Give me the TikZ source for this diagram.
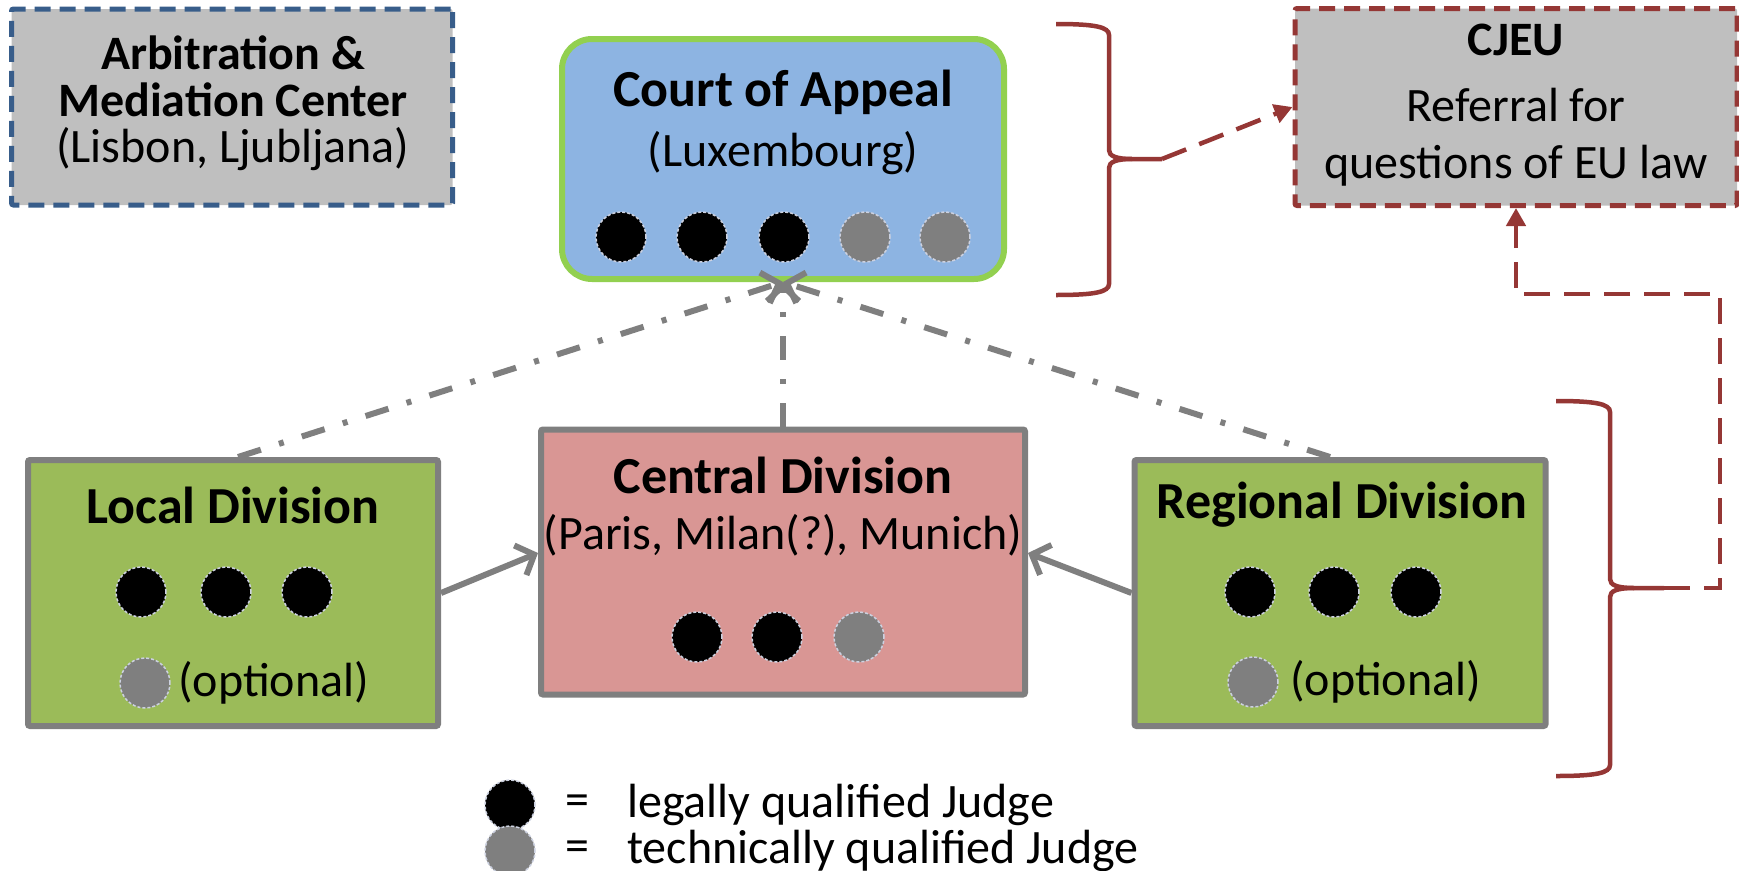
\documentclass[tikz,border=0pt]{standalone}
\usepackage{fontspec}
\setmainfont{Carlito}
\usetikzlibrary{arrows.meta,shapes.geometric}

\definecolor{arbblue}{RGB}{56,93,138}
\definecolor{boxgray}{RGB}{191,191,191}
\definecolor{courtblue}{RGB}{141,180,226}
\definecolor{courtgreen}{RGB}{146,208,80}
\definecolor{cjeured}{RGB}{149,55,53}
\definecolor{divgreen}{RGB}{155,187,89}
\definecolor{divpink}{RGB}{217,150,148}
\definecolor{divgray}{RGB}{127,127,127}
\definecolor{dotrim}{RGB}{204,209,224}

\tikzset{
  courtbox/.style={rectangle, draw=courtgreen, fill=courtblue, line width=6pt, rounded corners=30pt},
  divbox/.style={rectangle, draw=divgray, line width=6pt, rounded corners=2pt},
  extbox/.style={rectangle, fill=boxgray, line width=5pt, dash pattern=on 16pt off 9pt, rounded corners=2pt},
  judge/.style={circle, minimum size=50pt, inner sep=0pt, draw=dotrim, line width=1.5pt, dash pattern=on 3pt off 2pt},
  legal/.style={judge, fill=black},
  technical/.style={judge, fill=divgray},
  title/.style={font=\fontsize{52}{62}\selectfont\bfseries, inner sep=0pt},
  txt/.style={font=\fontsize{48}{57}\selectfont, align=center, inner sep=0pt},
  bold/.style={font=\fontsize{48}{57}\selectfont\bfseries, inner sep=0pt},
  appeal/.style={draw=divgray, line width=6pt, dash pattern=on 24pt off 19pt on 5pt off 19pt,
                 -{Straight Barb[length=15pt,width=32pt]}},
  feed/.style={draw=divgray, line width=6pt, -{Straight Barb[length=15pt,width=32pt]}},
  referral/.style={draw=cjeured, line width=4.5pt, dash pattern=on 26pt off 14pt,
                   -{Triangle[length=18pt,width=19pt]}},
  bracket/.style={draw=cjeured, line width=4.5pt}
}

\begin{document}
\begin{tikzpicture}[x=1pt,y=-1pt]
  \useasboundingbox (0,0) rectangle (1739,870);

  % top row
  \node[extbox, draw=arbblue, minimum width=441pt, minimum height=196pt] (arb) at (232,107) {};
  \node[bold] (arbline1) at (233,53) {Arbitration \&};
  \node[bold] (arbline2) at (233,100) {Mediation Center};
  \node[txt] (arbline3) at (233,149) {(Lisbon, Ljubljana)};

  \node[courtbox, minimum width=442pt, minimum height=240pt] (court) at (783,159) {};
  \node[title] (courttitle) at (783,92) {Court of Appeal};
  \node[txt] (courtcity) at (783,153) {(Luxembourg)};
  \foreach \x/\kind in {621/legal,702/legal,784/legal,865/technical,945/technical}
    \node[\kind] at (\x,237) {};

  \node[extbox, draw=cjeured, minimum width=442pt, minimum height=197pt] (cjeu) at (1516,107) {};
  \node[bold] (cjeuline1) at (1516,40) {CJEU};
  \node[txt] (cjeuline2) at (1516,105) {Referral for};
  \node[txt] (cjeuline3) at (1516,166) {questions of EU law};

  % divisions
  \node[divbox, fill=divgreen, minimum width=410pt, minimum height=266pt] (local) at (233,593) {};
  \node[title] (localtitle) at (233,505) {Local Division};
  \foreach \x in {141,226,307}
    \node[legal] at (\x,592) {};
  \node[technical] (localopt) at (145,683) {};
  \node[txt, anchor=west] (localopttext) at (178,683) {(optional)};

  \node[divbox, fill=divpink, minimum width=484pt, minimum height=265pt] (central) at (783,562) {};
  \node[title] (centraltitle) at (783,475) {Central Division};
  \node[txt] (centralcity) at (783,535) {(Paris, Milan(?), Munich)};
  \foreach \x/\kind in {697/legal,777/legal,859/technical}
    \node[\kind] at (\x,637) {};

  \node[divbox, fill=divgreen, minimum width=411pt, minimum height=266pt] (regional) at (1340,593) {};
  \node[title] (regionaltitle) at (1342,505) {Regional Division};
  \foreach \x in {1250,1334,1416}
    \node[legal] at (\x,592) {};
  \node[technical] (regionalopt) at (1253,682) {};
  \node[txt, anchor=west] (regionalopttext) at (1290,682) {(optional)};

  % legend
  \node[legal] (keylegal) at (510,805) {};
  \node[technical] (keytech) at (510,851) {};
  \node[txt] (eqlegal) at (577,805) {=};
  \node[txt] (eqtech) at (577,851) {=};
  \node[txt, anchor=west] (keylegaltext) at (627,805) {legally qualified Judge};
  \node[txt, anchor=west] (keytechtext) at (627,851) {technically qualified Judge};

  % connectors
  \draw[feed] (local.east) -- ([yshift=9pt]central.west);
  \draw[feed] (regional.west) -- ([yshift=9pt]central.east);
  \draw[appeal] ([xshift=5pt]local.north) -- (court.south);
  \draw[appeal] (central.north) -- (court.south);
  \draw[appeal] ([xshift=-10pt]regional.north) -- (court.south);

  % braces
  \coordinate (tipA) at (1162,159);
  \coordinate (tipB) at (1664,588);
  \draw[bracket] (1056,24) .. controls (1095,24) and (1109,27) .. (1109,35) -- (1109,150)
    .. controls (1109,156) and (1116,159) .. (1132,159) -- (tipA);
  \draw[bracket] (1132,159) .. controls (1116,159) and (1109,162) .. (1109,168) -- (1109,284)
    .. controls (1109,292) and (1095,295) .. (1056,295);
  \draw[bracket] (1556,401) .. controls (1596,401) and (1610,404) .. (1610,412) -- (1610,579)
    .. controls (1610,585) and (1617,588) .. (1634,588) -- (tipB);
  \draw[bracket] (1634,588) .. controls (1617,588) and (1610,591) .. (1610,597) -- (1610,765)
    .. controls (1610,773) and (1596,776) .. (1556,776);

  \draw[referral] (tipA) -- (cjeu.west);
  \draw[referral] (tipB) -- ++(56,0) -- ++(0,-294) -| (cjeu.south);
\end{tikzpicture}
\end{document}
